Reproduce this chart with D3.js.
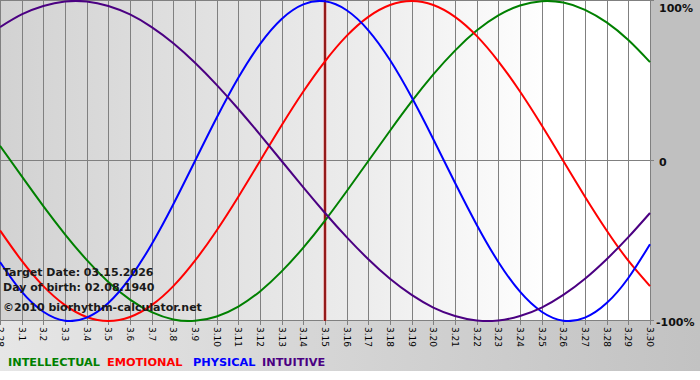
<!DOCTYPE html>
<html><head><meta charset="utf-8">
<script src="https://cdn.jsdelivr.net/npm/d3@7"></script>
<style>html,body{margin:0;padding:0;background:#fff;}svg{display:block;}</style>
</head><body>
<script>
const days = ["2.28","3.1","3.2","3.3","3.4","3.5","3.6","3.7","3.8","3.9","3.10","3.11","3.12","3.13","3.14","3.15","3.16","3.17","3.18","3.19","3.20","3.21","3.22","3.23","3.24","3.25","3.26","3.27","3.28","3.29","3.30"];
const intellectual = [0.095,-0.095,-0.282,-0.458,-0.618,-0.756,-0.866,-0.945,-0.990,-0.999,-0.972,-0.910,-0.815,-0.690,-0.541,-0.372,-0.189,0,0.189,0.372,0.541,0.690,0.815,0.910,0.972,0.999,0.990,0.945,0.866,0.756,0.618];
const emotional = [-0.434,-0.623,-0.782,-0.901,-0.975,-1.000,-0.975,-0.901,-0.782,-0.623,-0.434,-0.223,0,0.223,0.434,0.623,0.782,0.901,0.975,1.000,0.975,0.901,0.782,0.623,0.434,0.223,0,-0.223,-0.434,-0.623,-0.782];
const physical = [-0.631,-0.817,-0.942,-0.998,-0.979,-0.888,-0.731,-0.520,-0.270,0,0.270,0.520,0.731,0.888,0.979,0.998,0.942,0.817,0.631,0.398,0.136,-0.136,-0.398,-0.631,-0.817,-0.942,-0.998,-0.979,-0.888,-0.731,-0.520];
const intuitive = [0.837,0.916,0.969,0.997,0.997,0.969,0.916,0.837,0.736,0.614,0.476,0.325,0.165,0,-0.165,-0.325,-0.476,-0.614,-0.736,-0.837,-0.916,-0.969,-0.997,-0.997,-0.969,-0.916,-0.837,-0.736,-0.614,-0.476,-0.325];
const seriesNames = ["INTELLECTUAL","EMOTIONAL","PHYSICAL","INTUITIVE"];
const yTickValues = [1, 0, -1];
const yTickLabels = ["100%", "0", "-100%"];
const targetDay = "3.15";
const infoLines = ["Target Date: 03.15.2026", "Day of birth: 02.08.1940", "\u00a92010 biorhythm-calculator.net"];

const W = 700, H = 380;
const colors = ["#008000", "#ff0000", "#0000ff", "#4b0082"];
const seriesData = [intellectual, emotional, physical, intuitive];

const svg = d3.select("body").append("svg").attr("width", W).attr("height", H);
const defs = svg.append("defs");
const g1 = defs.append("linearGradient").attr("id", "plotbg").attr("x1", "0").attr("x2", "1").attr("y1", "0").attr("y2", "0");
g1.append("stop").attr("offset", "0%").attr("stop-color", "#d2d2d2");
g1.append("stop").attr("offset", "55%").attr("stop-color", "#ececec");
g1.append("stop").attr("offset", "85%").attr("stop-color", "#ffffff");
g1.append("stop").attr("offset", "100%").attr("stop-color", "#ffffff");
const g2 = defs.append("linearGradient").attr("id", "botbg").attr("x1", "0").attr("x2", "1").attr("y1", "0").attr("y2", "0");
g2.append("stop").attr("offset", "0%").attr("stop-color", "#e6e6e6");
g2.append("stop").attr("offset", "100%").attr("stop-color", "#c2c2c2");

const plotL = 0, plotR = 650, plotT = 1, plotB = 321;
const x = d3.scalePoint().domain(days).range([plotL, plotR]);
const y = d3.scaleLinear().domain([-1, 1]).range([plotB, plotT]);

// backgrounds
svg.append("rect").attr("x", 0).attr("y", 0).attr("width", W).attr("height", 371).attr("fill", "url(#botbg)");
svg.append("rect").attr("x", plotR).attr("y", 0).attr("width", W - plotR).attr("height", plotB).attr("fill", "#c0c0c0");
svg.append("rect").attr("x", plotL).attr("y", 0).attr("width", plotR - plotL).attr("height", plotB).attr("fill", "url(#plotbg)");

// grid
const grid = svg.append("g").attr("stroke", "#808080").attr("stroke-width", 1).attr("shape-rendering", "crispEdges");
days.forEach(d => {
  grid.append("line").attr("x1", Math.round(x(d)) + 0.5).attr("x2", Math.round(x(d)) + 0.5).attr("y1", 0).attr("y2", plotB + 4);
});
yTickValues.forEach(v => {
  grid.append("line").attr("x1", plotL).attr("x2", plotR + 4).attr("y1", Math.round(y(v)) - 0.5).attr("y2", Math.round(y(v)) - 0.5);
});

// target line
svg.append("line").attr("x1", x(targetDay)).attr("x2", x(targetDay)).attr("y1", 0).attr("y2", plotB)
  .attr("stroke", "#e08080").attr("stroke-width", 3);
svg.append("line").attr("x1", x(targetDay)).attr("x2", x(targetDay)).attr("y1", 0).attr("y2", plotB)
  .attr("stroke", "#800000").attr("stroke-width", 1.6);

// curves
const line = d3.line().x((d, i) => x(days[i])).y(d => y(d)).curve(d3.curveNatural);
const clip = defs.append("clipPath").attr("id", "pc");
clip.append("rect").attr("x", plotL).attr("y", 0).attr("width", plotR - plotL + 1).attr("height", plotB + 1);
const lines = svg.append("g").attr("clip-path", "url(#pc)");
seriesData.forEach((s, k) => {
  lines.append("path").attr("d", line(s)).attr("fill", "none").attr("stroke", colors[k]).attr("stroke-width", 2);
});

// x tick labels (rotated)
const xl = svg.append("g").attr("font-family", "Tahoma, 'DejaVu Sans', sans-serif").attr("font-size", "9px").attr("fill", "#000");
days.forEach(d => {
  xl.append("text").attr("transform", `translate(${x(d) - 3},${plotB + 6}) rotate(90)`).text(d);
});

// y labels on right
const yl = svg.append("g").attr("font-family", "'DejaVu Sans', Verdana, sans-serif").attr("font-size", "11px").attr("font-weight", "bold").attr("fill", "#111");
const yBase = [12, 166, 326];
yTickValues.forEach((v, i) => {
  yl.append("text").attr("x", i === 2 ? 656 : 659).attr("y", yBase[i]).text(yTickLabels[i]);
});

// info text
const info = svg.append("g").attr("font-family", "'DejaVu Sans', Verdana, sans-serif").attr("font-size", "11px").attr("font-weight", "bold").attr("fill", "#1a1a1a");
[276, 291, 311].forEach((yy, i) => info.append("text").attr("x", 3).attr("y", yy).text(infoLines[i]));

// legend
const legX = [8, 107, 193, 262];
const leg = svg.append("g").attr("font-family", "'DejaVu Sans', Verdana, sans-serif").attr("font-size", "11.3px").attr("font-weight", "bold");
seriesNames.forEach((n, i) => leg.append("text").attr("x", legX[i]).attr("y", 366).attr("fill", colors[i]).text(n));
</script>
</body></html>
